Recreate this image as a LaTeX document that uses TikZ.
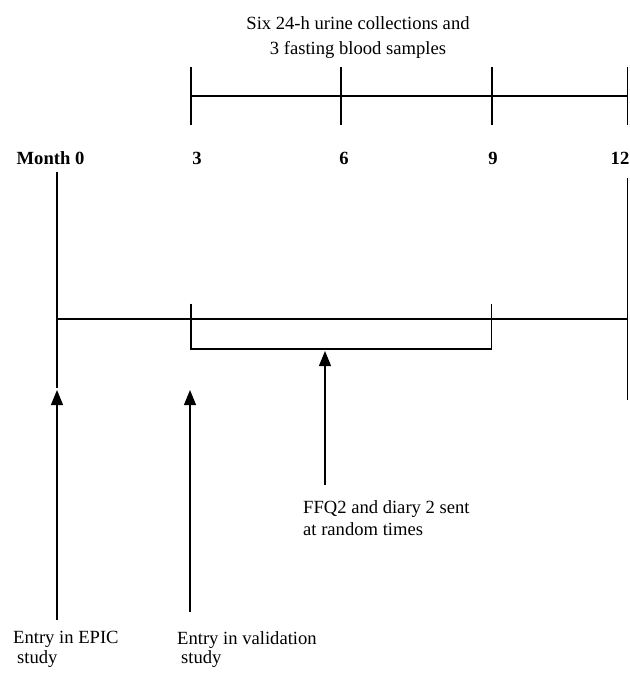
\documentclass[tikz,border=0pt]{standalone}
\usepackage{fontspec}
\setmainfont{Liberation Serif}
\usetikzlibrary{arrows.meta}
\begin{document}
\begin{tikzpicture}[x=1pt,y=-1pt,
  lbl/.style={font=\fontsize{18.6}{21}\selectfont, inner sep=0pt},
  mlbl/.style={font=\fontsize{18.6}{21}\selectfont\bfseries, inner sep=0pt},
  thin line/.style={line width=1.1pt},
  thick line/.style={line width=1.5pt},
  uparrow/.style={line width=1.1pt, -{Triangle[width=12pt,length=15pt]}}]
\useasboundingbox (0,0) rectangle (630,673);
% top text
\node[lbl, align=center, font=\fontsize{18.6}{25}\selectfont] (toptext) at (358,38) {Six 24-h urine collections and\\3 fasting blood samples};
% top bracket
\coordinate (t3a) at (191,67); \coordinate (t3b) at (191,125);
\coordinate (t6a) at (341,67); \coordinate (t6b) at (341,125);
\coordinate (t9a) at (492,67); \coordinate (t9b) at (492,125);
\coordinate (t12a) at (627.5,67); \coordinate (t12b) at (627.5,125);
\coordinate (tl) at (191,96); \coordinate (tr) at (627.5,96);
\draw[thick line] (tl) -- (tr);
\draw[thin line] (t3a) -- (t3b);
\draw[thin line] (t6a) -- (t6b);
\draw[thin line] (t9a) -- (t9b);
\draw[thick line] (t12a) -- (t12b);
% month labels
\node[mlbl] (m0) at (50.5,158.5) {Month 0};
\node[mlbl] (m3) at (197,158.5) {3};
\node[mlbl] (m6) at (344,158.5) {6};
\node[mlbl] (m9) at (493,158.5) {9};
\node[mlbl] (m12) at (620,158.5) {12};
% main timeline
\coordinate (l0a) at (57,172); \coordinate (l0b) at (57,388);
\coordinate (r12a) at (627.5,178); \coordinate (r12b) at (627.5,400);
\coordinate (ml) at (57,319); \coordinate (mr) at (627.5,319);
\draw[thin line] (l0a) -- (l0b);
\draw[thick line] (r12a) -- (r12b);
\draw[thin line] (ml) -- (mr);
% bracket
\coordinate (b3a) at (191,303.5); \coordinate (b3b) at (191,349);
\coordinate (b9a) at (491.5,303.5); \coordinate (b9b) at (491.5,349);
\draw[thin line] (b3a) -- (b3b) -- (b9b) -- (b9a);
% arrows
\coordinate (a1s) at (57,620); \coordinate (a1e) at (57,390);
\coordinate (a2s) at (190,612); \coordinate (a2e) at (190,390);
\coordinate (a3s) at (325,485); \coordinate (a3e) at (325,351);
\draw[uparrow] (a1s) -- (a1e);
\draw[uparrow] (a2s) -- (a2e);
\draw[uparrow] (a3s) -- (a3e);
% labels
\node[lbl, align=left, anchor=north west, font=\fontsize{18.6}{22}\selectfont] (ffq) at (303,500) {FFQ2 and diary 2 sent\\at random times};
\node[lbl, align=left, anchor=north west, font=\fontsize{18.6}{19.5}\selectfont] (epic) at (13,631) {Entry in EPIC\\\hspace*{4pt}study};
\node[lbl, align=left, anchor=north west, font=\fontsize{18.6}{19.5}\selectfont] (val) at (177,631) {Entry in validation\\\hspace*{4pt}study};
\end{tikzpicture}
\end{document}
